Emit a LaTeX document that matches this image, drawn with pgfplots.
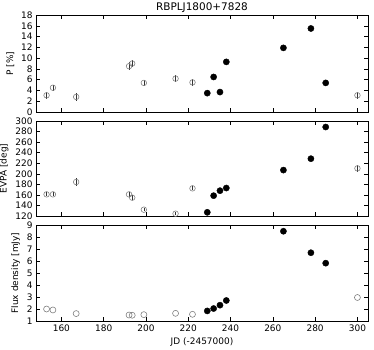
\documentclass[border=0pt]{standalone}
\usepackage{pgfplots}
\pgfplotsset{compat=1.18}
\usepackage{fontspec}
\setmainfont{DejaVu Sans}

% open symbols: 2015 season before the flare, filled: flare
\pgfplotstableread{
jd     p    ep   evpa   eevpa  flux
153    3.1  0.6  161    4      2.00
156    4.5  0.6  161    4      1.92
167    2.8  0.7  184.4  8      1.62
192    8.5  0.7  161    5      1.50
193.5  9.0  0.7  154.7  5      1.48
199    5.4  0.5  132    3      1.53
214    6.2  0.6  124.4  3      1.64
222    5.5  0.6  172.4  4      1.56
300    3.1  0.7  210.3  6      2.96
}\openpts
\pgfplotstableread{
jd     p     evpa   flux
229    3.5   127    1.84
232    6.5   158.5  2.04
235    3.7   168    2.32
238    9.3   173    2.71
265    11.9  207    8.48
278    15.5  228.6  6.69
285    5.4   288.6  5.82
}\filledpts

\pgfplotsset{
  every axis title shift=0pt,
  panel/.style={
    scale only axis, width=332bp,
    xmin=148, xmax=305,
    xtick={160,180,...,300},
    tick align=inside, tick pos=both,
    major tick length=4bp,
    every tick/.style={black, line width=0.5pt},
    axis line style={black, line width=0.7pt},
    tick label style={font=\fontsize{9}{10}\selectfont},
    label style={font=\fontsize{9}{10}\selectfont},
    /pgf/number format/assume math mode=true,
    /pgf/number format/1000 sep={},
    clip=false,
  },
  openmk/.style={only marks, mark=o, mark size=2.8bp,
    mark options={draw=gray, line width=0.6pt},
    error bars/.cd, y dir=both, y explicit,
    error bar style={black!80, line width=0.6pt}, error mark=none},
  fullmk/.style={only marks, mark=*, mark size=3.1bp, black},
}

\begin{document}
\begin{tikzpicture}
\path[use as bounding box] (0,0) rectangle (374bp,-350bp);

\begin{axis}[panel, at={(36bp,-15bp)}, anchor=north west, height=97bp,
  ymin=0, ymax=18, ytick={0,2,...,18}, xticklabels={},
  ylabel={P [\%]},
  title={RBPLJ1800+7828},
  title style={font=\fontsize{10.5}{12}\selectfont, at={(0.5,1)},
    anchor=south, inner sep=0pt, yshift=2bp}]
\addplot[openmk] table[x=jd, y=p, y error=ep] {\openpts};
\addplot[fullmk] table[x=jd, y=p] {\filledpts};
\end{axis}

\begin{axis}[panel, at={(36bp,-121bp)}, anchor=north west, height=95bp,
  ymin=120, ymax=300, ytick={120,140,...,300}, xticklabels={},
  ylabel={EVPA [deg]}]
\addplot[openmk] table[x=jd, y=evpa, y error=eevpa] {\openpts};
\addplot[fullmk] table[x=jd, y=evpa] {\filledpts};
\end{axis}

\begin{axis}[panel, at={(36bp,-225bp)}, anchor=north west, height=96bp,
  ymin=1, ymax=9, ytick={1,2,...,9},
  ylabel={Flux density [mJy]},
  xlabel={JD (-2457000)}]
\addplot[only marks, mark=o, mark size=3bp,
  mark options={draw=gray, line width=0.6pt}] table[x=jd, y=flux] {\openpts};
\addplot[fullmk] table[x=jd, y=flux] {\filledpts};
\end{axis}
\end{tikzpicture}
\end{document}
